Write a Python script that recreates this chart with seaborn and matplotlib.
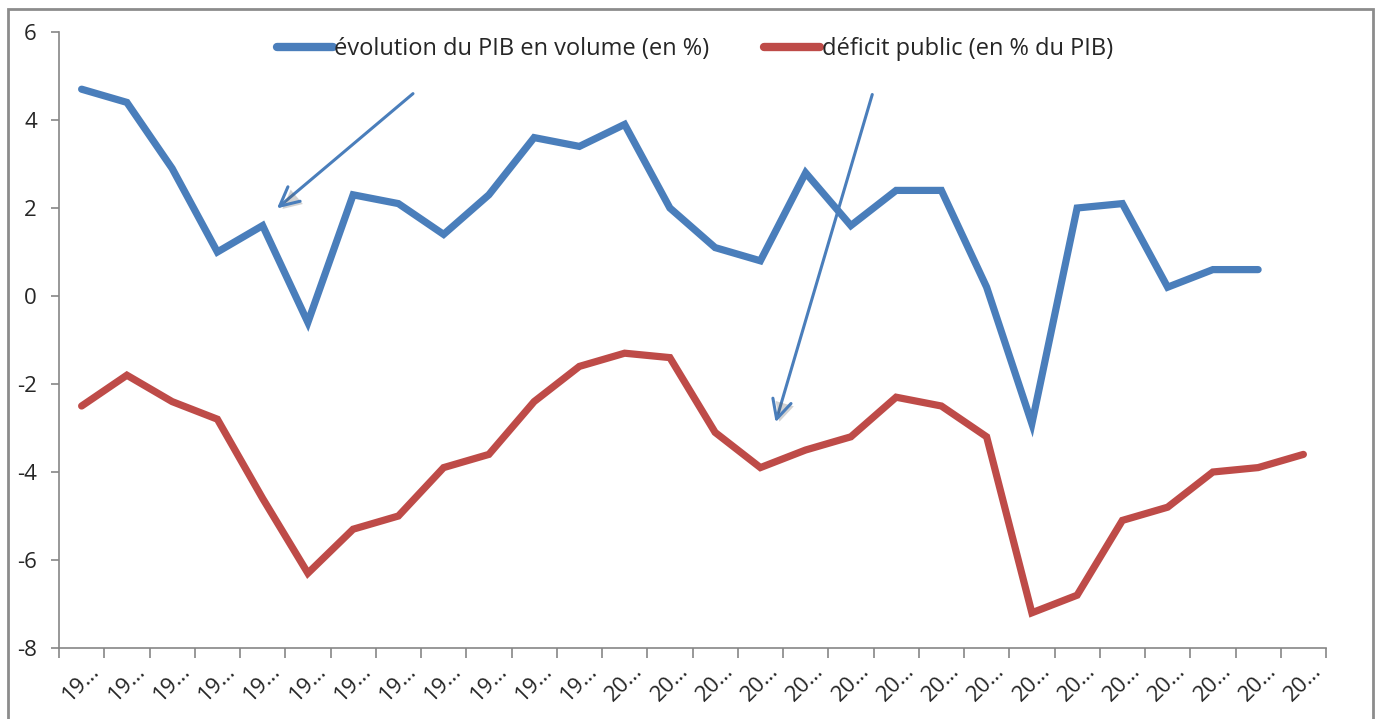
import matplotlib
matplotlib.use("Agg")
import matplotlib.pyplot as plt
import matplotlib.patches as mpatches
import matplotlib.patheffects as pe
from matplotlib.lines import Line2D
import seaborn as sns
import pandas as pd
import numpy as np

# data (1988 -> 2015)
years = list(range(1988, 2016))
pib = [4.7, 4.4, 2.9, 1.0, 1.6, -0.6, 2.3, 2.1, 1.4, 2.3, 3.6, 3.4, 3.9, 2.0,
       1.1, 0.8, 2.8, 1.6, 2.4, 2.4, 0.2, -2.9, 2.0, 2.1, 0.2, 0.6, 0.6, np.nan]
deficit = [-2.5, -1.8, -2.4, -2.8, -4.6, -6.3, -5.3, -5.0, -3.9, -3.6, -2.4, -1.6,
           -1.3, -1.4, -3.1, -3.9, -3.5, -3.2, -2.3, -2.5, -3.2, -7.2, -6.8, -5.1,
           -4.8, -4.0, -3.9, -3.6]
tick_labels = [str(y)[:2] + "\u2026" for y in years]
series_names = ["évolution du PIB en volume (en %)", "déficit public (en % du PIB)"]
colors = ["#4A7EBB", "#BE4B48"]

df = pd.DataFrame({
    "pos": list(range(len(years))) * 2,
    "valeur": pib + deficit,
    "serie": [series_names[0]] * len(years) + [series_names[1]] * len(years),
})
df = df.dropna()

sns.set_style("white")
plt.rcParams["font.family"] = ["Open Sans", "DejaVu Sans"]
plt.rcParams["axes.unicode_minus"] = False

fig = plt.figure(figsize=(13.81, 7.19), dpi=100)
ax = fig.add_axes([59 / 1381, 1 - 648 / 719, (1326 - 59) / 1381, (648 - 32) / 719])

sns.lineplot(data=df, x="pos", y="valeur", hue="serie", palette=colors,
             linewidth=5.2, legend=False, ax=ax, solid_capstyle="round",
             solid_joinstyle="miter")

ax.set_xlim(-0.5, len(years) - 0.5)
ax.set_ylim(-8, 6)
ax.set_yticks(range(-8, 7, 2))
ax.set_xticks(range(len(years)))
ax.set_xticklabels(tick_labels, rotation=45, ha="center")
ax.set_xticks(np.arange(-0.5, len(years)), minor=True)
ax.set_xlabel("")
ax.set_ylabel("")

gray = "#868686"
for side in ["top", "right"]:
    ax.spines[side].set_visible(False)
for side in ["left", "bottom"]:
    ax.spines[side].set_color(gray)
    ax.spines[side].set_linewidth(1.2)
ax.tick_params(axis="y", direction="out", length=6, width=1.2, color=gray,
               labelsize=16, pad=10, left=True)
ax.tick_params(axis="x", which="major", length=0, labelsize=16, pad=9)
ax.tick_params(axis="x", which="minor", direction="out", length=7, width=1.2,
               color=gray, bottom=True)

handles = [Line2D([0], [0], color=c, lw=6, solid_capstyle="round") for c in colors]
fig.legend(handles, series_names, loc="center", bbox_to_anchor=(0.503, 0.932),
           ncol=2, frameon=False, fontsize=17, handlelength=2.4,
           handletextpad=0.05, columnspacing=2.3)

# the two annotation arrows, with a faint drop shadow
arrow_style = dict(arrowstyle="->", color="#4A7EBB", lw=2.2, mutation_scale=34,
                   path_effects=[pe.withSimplePatchShadow(offset=(2, -2),
                                                          alpha=0.25)])
ax.annotate("", xy=(4.27, 1.95), xytext=(7.37, 4.64), arrowprops=arrow_style)
ax.annotate("", xy=(15.32, -2.93), xytext=(17.49, 4.64), arrowprops=arrow_style)

# outer chart frame
frame = mpatches.Rectangle((8 / 1381, -0.05), (1373 - 8) / 1381, 1.05 - 9 / 719,
                           transform=fig.transFigure, fill=False,
                           edgecolor="#8c8c8c", linewidth=2)
fig.patches.append(frame)

fig.savefig("out.png", dpi=100)
